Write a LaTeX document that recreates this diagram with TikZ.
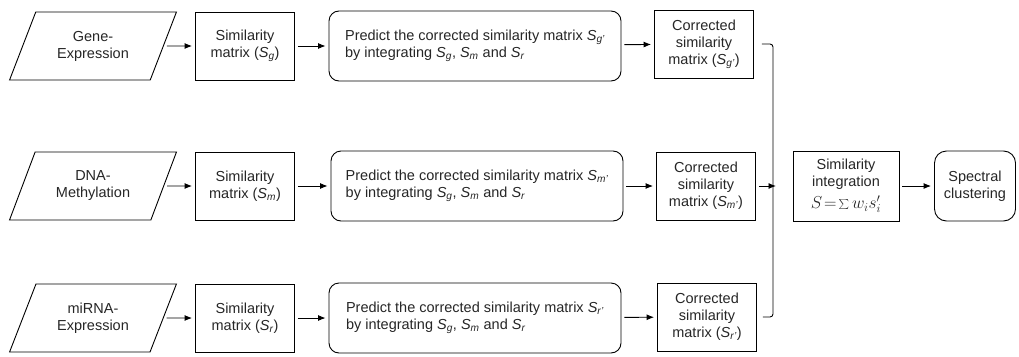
\documentclass[tikz,border=0pt]{standalone}
\usepackage{fontspec}
\setmainfont{Liberation Sans}
\usetikzlibrary{shapes.geometric,arrows.meta,positioning}

\newcommand{\Smat}[1]{\textit{S\textsubscript{#1}}}

\begin{document}
\begin{tikzpicture}[x=1pt,y=-1pt,
    every node/.style={font=\fontsize{14.5}{17}\selectfont, line width=0.9pt, text=black!85},
    datain/.style={draw, trapezium, trapezium left angle=64, trapezium right angle=116,
      trapezium stretches=true, minimum width=167pt, minimum height=68pt, align=center},
    simbox/.style={draw, rectangle, minimum width=99pt, minimum height=68pt, align=center},
    predbox/.style={draw, rectangle, rounded corners=10pt, minimum width=292pt, minimum height=70pt, align=left},
    arr/.style={-{Latex[length=7.5pt,width=6pt]}, line width=0.9pt, shorten <=3pt, shorten >=3pt}]
    \useasboundingbox (0,0) rectangle (1019,356);
            % inputs
            \node[datain] (gene) at (93,46) {Gene-\\Expression};
            \node[datain] (dna) at (93,186) {DNA-\\Methylation};
            \node[datain] (mirna) at (93,318) {miRNA-\\Expression};
            % similarity matrices
            \node[simbox] (sg) at (245,46) {Similarity\\matrix (\Smat{g})};
            \node[simbox] (sm) at (245,186) {Similarity\\matrix (\Smat{m})};
            \node[simbox] (sr) at (245,318) {Similarity\\matrix (\Smat{r})};
            % prediction
            \node[predbox] (pg) at (475,46) {Predict the corrected similarity matrix \Smat{g'}\\by integrating \Smat{g}, \Smat{m} and \Smat{r}};
            \node[predbox] (pm) at (477,186) {Predict the corrected similarity matrix \Smat{m'}\\by integrating \Smat{g}, \Smat{m} and \Smat{r}};
            \node[predbox] (pr) at (475,318) {Predict the corrected similarity matrix \Smat{r'}\\by integrating \Smat{g}, \Smat{m} and \Smat{r}};
            % corrected matrices
            \node[simbox] (cg) at (704,44) {Corrected\\similarity\\matrix (\Smat{g'})};
            \node[simbox] (cm) at (706,186) {Corrected\\similarity\\matrix (\Smat{m'})};
            \node[simbox] (cr) at (707,317) {Corrected\\similarity\\matrix (\Smat{r'})};
            \coordinate (bus) at (773,186);
            % integration
            \node[simbox, minimum width=106pt, minimum height=70pt] (integ) at (846,186) {Similarity\\integration\\[5pt]{\fontsize{16.5}{17}\selectfont$S\!=\!\sum w_i s_i'$}};
            \node[predbox, rounded corners=12pt, minimum width=81pt, align=center] (spec) at (975,186) {Spectral\\clustering};
            \draw[arr] (gene) -- (sg);
            \draw[arr] (dna) -- (sm);
            \draw[arr] (mirna) -- (sr);
            \draw[arr] (sg) -- (pg);
            \draw[arr] (sm) -- (pm);
            \draw[arr] (sr) -- (pr);
            \draw[arr] (pg) -- (cg);
            \draw[arr] (pm) -- (cm);
            \draw[arr] (pr) -- (cr);
            \draw[line width=0.9pt, rounded corners=3pt] ([xshift=8pt]cg.east) -| (bus) |- ([xshift=6pt]cr.east);
            \draw[arr, shorten >=-3pt] (cm) -- (bus);
            \draw[arr] (integ) -- (spec);
\end{tikzpicture}
\end{document}
